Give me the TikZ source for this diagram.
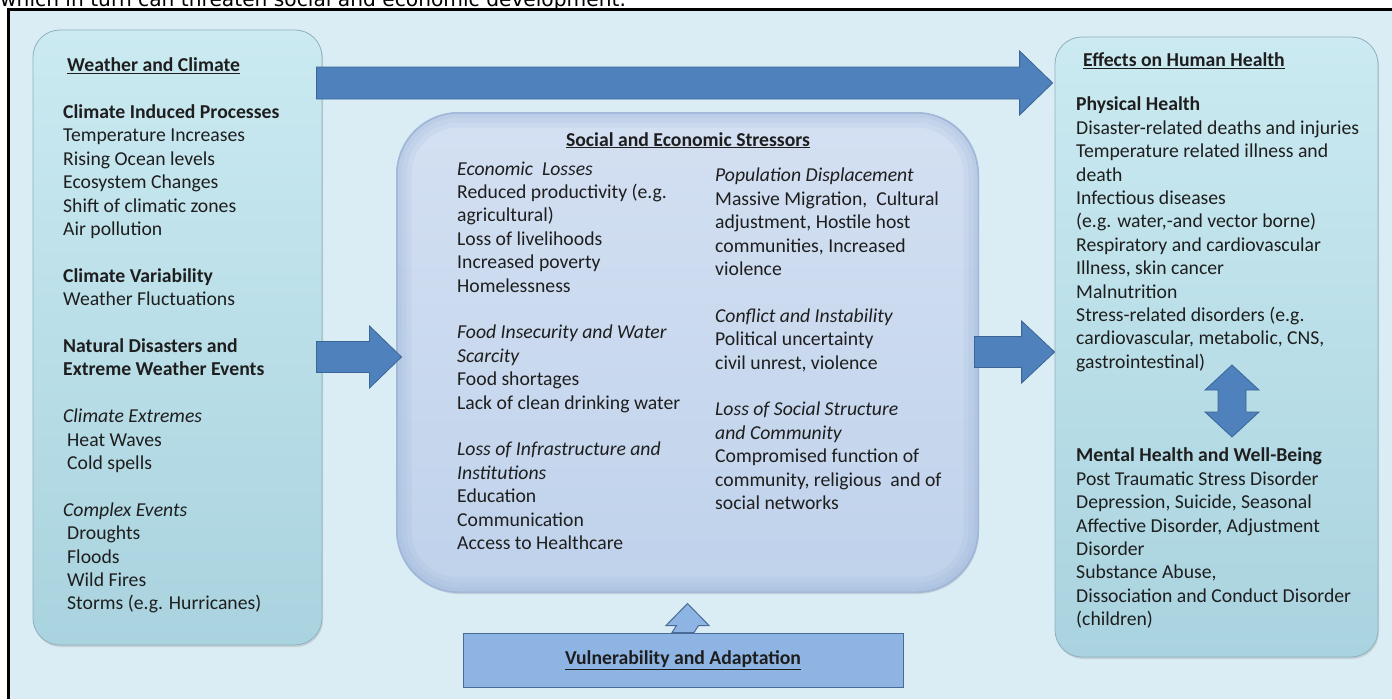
\documentclass[tikz,border=0pt]{standalone}
\usepackage{fontspec}
\setmainfont{Carlito}
\newfontfamily\leadfont{DejaVu Sans}
\usetikzlibrary{calc,shadows}

\definecolor{pagebg}{HTML}{DAEDF4}
\definecolor{sidetop}{HTML}{CBEAF1}
\definecolor{sidemid}{HTML}{B7DDE8}
\definecolor{sidebot}{HTML}{A9D3DF}
\definecolor{sideedge}{HTML}{8FB0BE}
\definecolor{midtop}{HTML}{D4E0F2}
\definecolor{midbot}{HTML}{BFD2EB}
\definecolor{midedge}{HTML}{A3B9DA}
\definecolor{midglow}{HTML}{8FA9D2}
\definecolor{arrowfill}{HTML}{4F81BD}
\definecolor{arrowedge}{HTML}{3B6596}
\definecolor{vulnfill}{HTML}{8DB4E2}
\definecolor{vulnedge}{HTML}{4A6B98}
\definecolor{ink}{HTML}{1E1E1E}

\newcommand\titleline[1]{\underline{#1}}
% horizontal block arrow: style, tail, tip, shaft half-width, head half-width, head length
\newcommand\hblock[6]{\draw[#1] ($(#2)+(0,-#4)$) -- ($(#3)+(-#6,-#4)$) -- ($(#3)+(-#6,-#5)$) -- (#3)
  -- ($(#3)+(-#6,#5)$) -- ($(#3)+(-#6,#4)$) -- ($(#2)+(0,#4)$) -- cycle;}
% upward block arrow: style, tail, tip, shaft half-width, head half-width, head length
\newcommand\ublock[6]{\draw[#1] ($(#2)+(-#4,0)$) -- ($(#3)+(-#4,#6)$) -- ($(#3)+(-#5,#6)$) -- (#3)
  -- ($(#3)+(#5,#6)$) -- ($(#3)+(#4,#6)$) -- ($(#2)+(#4,0)$) -- cycle;}

\tikzset{
  sidebox/.style={rounded corners=27pt, draw=sideedge, line width=0.8pt,
    top color=sidetop, middle color=sidemid, bottom color=sidebot, inner sep=0pt,
    drop shadow={shadow xshift=1pt, shadow yshift=-2pt, opacity=0.25}},
  midbox/.style={rounded corners=62pt, draw=midedge, line width=1pt,
    top color=midtop, bottom color=midbot, inner sep=0pt,
    drop shadow={shadow xshift=1pt, shadow yshift=-2pt, opacity=0.25}},
  vulnbox/.style={draw=vulnedge, line width=1pt, fill=vulnfill, inner sep=0pt},
  bigarrow/.style={fill=arrowfill, draw=arrowedge, line width=0.8pt},
  smallarrow/.style={fill=vulnfill, draw=vulnedge, line width=1pt},
  txt/.style={anchor=north west, align=left, inner sep=0pt, text=ink,
    font=\fontsize{19.7}{23.4}\selectfont},
  heading/.style={inner sep=0pt, text=ink, font=\fontsize{19.7}{23.4}\selectfont\bfseries},
}

\begin{document}
\begin{tikzpicture}[x=1pt,y=-1pt]
\useasboundingbox (0,0) rectangle (1392,699);
\fill[white] (0,0) rectangle (1392,699);
\node[anchor=base west, inner sep=0pt, font=\leadfont\fontsize{20.2}{24}\selectfont]
  (lead) at (0,6.5) {which in turn can threaten social and economic development.};
\fill[pagebg] (9,9) rectangle (1392,699);
\draw[black, line width=2.5pt] (8.7,699) -- (8.7,9.5) -- (1392,9.5);

% the three main boxes and the bottom box
\node[sidebox, minimum width=289pt, minimum height=615pt] (wc) at (177.5,337.5) {};
\node[sidebox, minimum width=323pt, minimum height=620pt] (hh) at (1216.5,347) {};
\node[vulnbox, minimum width=440pt, minimum height=54pt] (va) at (683,660) {};

% arrows between the boxes
\coordinate (toptail) at ($(wc.east |- 0,83)+(-6,0)$);
\coordinate (toptip)  at ($(hh.west |- 0,83)+(-2,0)$);
\hblock{bigarrow}{toptail}{toptip}{16}{32}{33}

\node[midbox, minimum width=581pt, minimum height=479pt] (se) at (687.5,352.5) {};
% soft darker rim inside the middle box
\begin{scope}
  \clip[rounded corners=62pt] (se.north west) rectangle (se.south east);
  \foreach \w in {30,20,10} {
    \draw[midglow, line width=\w pt, opacity=0.12, rounded corners=62pt]
      (se.north west) rectangle (se.south east);
  }
\end{scope}
\draw[midedge, line width=1pt, rounded corners=62pt] (se.north west) rectangle (se.south east);

\coordinate (lefttail) at ($(wc.east |- 0,357)+(-6,0)$);
\coordinate (lefttip)  at ($(se.west |- 0,357)+(5,0)$);
\hblock{bigarrow}{lefttail}{lefttip}{15.5}{31}{32}
\coordinate (righttail) at ($(se.east |- 0,352)+(-4,0)$);
\coordinate (righttip)  at ($(hh.west |- 0,352)+(0,0)$);
\hblock{bigarrow}{righttail}{righttip}{15.5}{31}{33}

\coordinate (uptail) at (va.north);
\coordinate (uptip)  at ($(se.south)+(0,11)$);
\ublock{smallarrow}{uptail}{uptip}{11}{21.5}{22}

% weather and climate
\node[txt] (wctext) at (63,55.1) {\strut\hspace{4pt}\textbf{\titleline{Weather and Climate}}\\
\strut\\
\textbf{Climate Induced Processes}\\
Temperature Increases\\
Rising Ocean levels\\
Ecosystem Changes\\
Shift of climatic zones\\
Air pollution\\
\strut\\
\textbf{Climate Variability}\\
Weather Fluctuations\\
\strut\\
\textbf{Natural Disasters and}\\
\textbf{Extreme Weather Events}\\
\strut\\
\textit{Climate Extremes}\\
\hspace{4pt}Heat Waves\\
\hspace{4pt}Cold spells\\
\strut\\
\textit{Complex Events}\\
\hspace{4pt}Droughts\\
\hspace{4pt}Floods\\
\hspace{4pt}Wild Fires\\
\hspace{4pt}Storms (e.g. Hurricanes)};

% social and economic stressors
\node[heading, anchor=base] (setitle) at (688,146) {\titleline{Social and Economic Stressors}};
\node[txt] (seleft) at (457,158.6) {\strut\textit{Economic\ \ Losses}\\
Reduced productivity (e.g.\\
agricultural)\\
Loss of livelihoods\\
Increased poverty\\
Homelessness\\
\strut\\
\textit{Food Insecurity and Water}\\
\textit{Scarcity}\\
Food shortages\\
Lack of clean drinking water\\
\strut\\
\textit{Loss of Infrastructure and}\\
\textit{Institutions}\\
Education\\
Communication\\
Access to Healthcare};
\node[txt] (seright) at (715,165.3) {\strut\textit{Population Displacement}\\
Massive Migration,\ \ Cultural\\
adjustment, Hostile host\\
communities, Increased\\
violence\\
\strut\\
\textit{Conflict and Instability}\\
Political uncertainty\\
civil unrest, violence\\
\strut\\
\textit{Loss of Social Structure}\\
\textit{and Community}\\
Compromised function of\\
community, religious\ \ and of\\
social networks};

% effects on human health
\node[heading, anchor=base west] (hhtitle) at (1083,66.7) {\titleline{Effects on Human Health}};
\node[txt] (hhtext) at (1076,94.3) {\strut\textbf{Physical Health}\\
Disaster-related deaths and injuries\\
Temperature related illness and\\
death\\
Infectious diseases\\
(e.g. water,-and vector borne)\\
Respiratory and cardiovascular\\
Illness, skin cancer\\
Malnutrition\\
Stress-related disorders (e.g.\\
cardiovascular, metabolic, CNS,\\
gastrointestinal)\\
\strut\\
\strut\\
\strut\\
\textbf{Mental Health and Well-Being}\\
Post Traumatic Stress Disorder\\
Depression, Suicide, Seasonal\\
Affective Disorder, Adjustment\\
Disorder\\
Substance Abuse,\\
Dissociation and Conduct Disorder\\
(children)};

% two-way arrow between physical and mental health
\coordinate (dtop) at (1232,365);
\coordinate (dbot) at (1232,437);
\draw[bigarrow] (dtop) -- ($(dtop)+(27,25)$) -- ($(dtop)+(14,25)$) -- ($(dbot)+(14,-25)$)
  -- ($(dbot)+(27,-25)$) -- (dbot) -- ($(dbot)+(-27,-25)$) -- ($(dbot)+(-14,-25)$)
  -- ($(dtop)+(-14,25)$) -- ($(dtop)+(-27,25)$) -- cycle;

% vulnerability and adaptation
\node[heading] (vatext) at (va.center) {\titleline{Vulnerability and Adaptation}};
\end{tikzpicture}
\end{document}
